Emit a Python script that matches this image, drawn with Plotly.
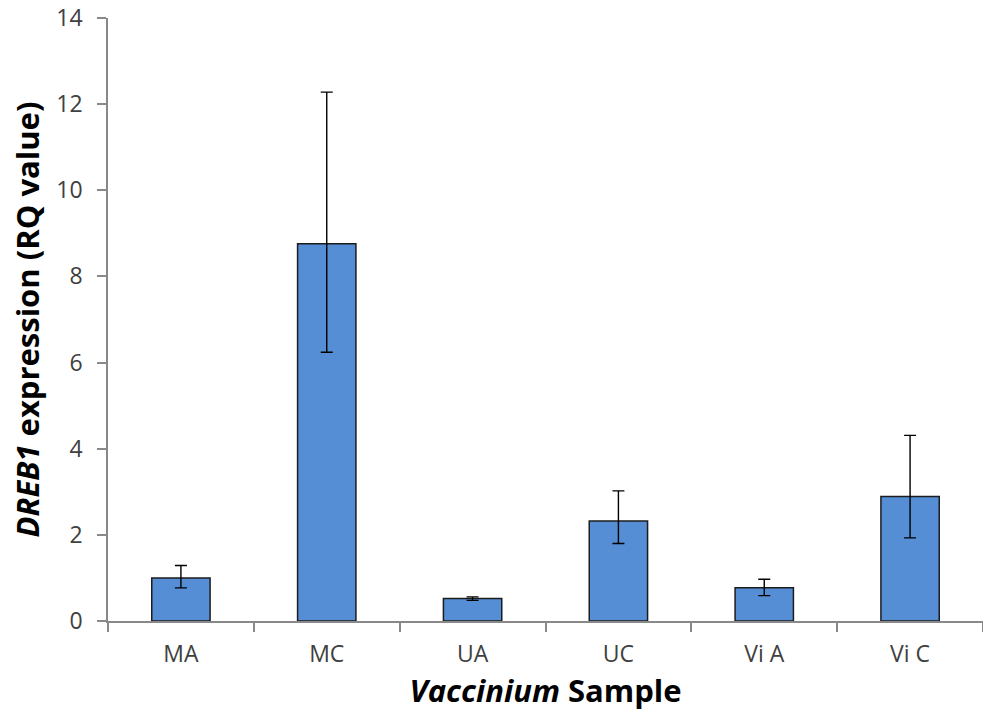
import plotly.graph_objects as go

categories = ["MA", "MC", "UA", "UC", "Vi A", "Vi C"]
rq_values = [1.00, 8.76, 0.52, 2.32, 0.77, 2.89]
err_upper = [1.29, 12.28, 0.56, 3.02, 0.97, 4.31]
err_lower = [0.77, 6.24, 0.48, 1.80, 0.59, 1.93]
y_ticks = [0, 2, 4, 6, 8, 10, 12, 14]

plus = [u - v for u, v in zip(err_upper, rq_values)]
minus = [v - l for v, l in zip(rq_values, err_lower)]

FONT = "Open Sans"
AXIS_GREY = "#898989"
TEXT_GREY = "#404040"

fig = go.Figure(
    go.Bar(
        x=categories,
        y=rq_values,
        width=0.4,
        marker=dict(color="#558ED5", line=dict(color="#1c1c1c", width=1.5)),
        error_y=dict(
            type="data",
            symmetric=False,
            array=plus,
            arrayminus=minus,
            color="black",
            thickness=1.4,
            width=6,
        ),
    )
)

fig.update_layout(
    width=983,
    height=711,
    margin=dict(l=108, r=0, t=18, b=90, autoexpand=False),
    plot_bgcolor="white",
    paper_bgcolor="white",
    showlegend=False,
    font=dict(family=FONT, color=TEXT_GREY, size=23),
)

fig.update_xaxes(
    type="category",
    showline=True,
    linecolor=AXIS_GREY,
    linewidth=1.5,
    ticks="outside",
    tickson="boundaries",
    ticklen=9,
    tickcolor=AXIS_GREY,
    tickwidth=1.5,
    tickfont=dict(family=FONT, size=23, color=TEXT_GREY),
    ticklabelstandoff=12,
    showgrid=False,
    title=dict(
        text="<b><i>Vaccinium</i> Sample</b>",
        font=dict(family=FONT, size=31, color="black"),
        standoff=2,
    ),
    automargin=False,
)

fig.update_yaxes(
    range=[0, 14],
    tickvals=y_ticks,
    ticktext=[str(t) for t in y_ticks],
    showline=True,
    linecolor=AXIS_GREY,
    linewidth=1.5,
    ticks="outside",
    ticklen=9,
    tickcolor=AXIS_GREY,
    tickwidth=1.5,
    tickfont=dict(family=FONT, size=23, color=TEXT_GREY),
    ticklabelstandoff=10,
    showgrid=False,
    zeroline=False,
    title=dict(
        text="<b><i>DREB1</i> expression (RQ value)</b>",
        font=dict(family=FONT, size=31, color="black"),
        standoff=7,
    ),
    automargin=False,
)

fig.write_html(
    "out.html",
    config={"displayModeBar": False},
    post_script="document.body.style.margin='0';document.body.style.overflow='hidden';",
)
